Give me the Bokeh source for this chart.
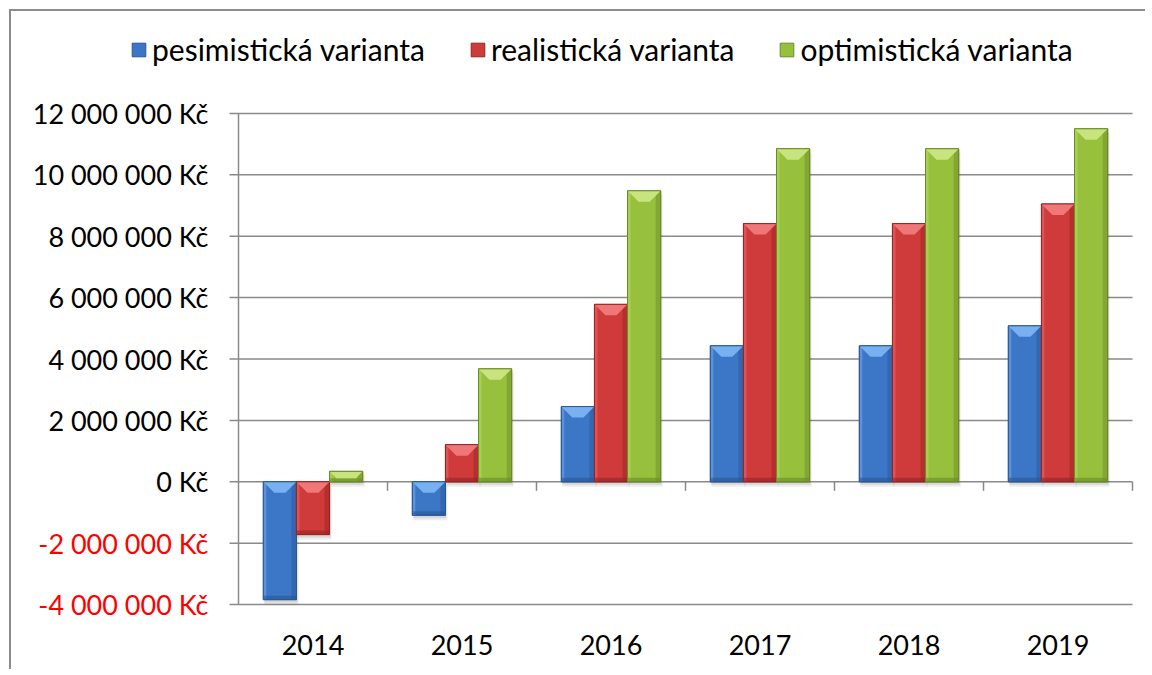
import numpy as np
from bokeh.plotting import figure
from bokeh.models import Range1d, Legend, LegendItem
from bokeh.embed import file_html
from bokeh.resources import INLINE

# ---------------- data ----------------
years = ["2014", "2015", "2016", "2017", "2018", "2019"]
series_names = ["pesimistická varianta", "realistická varianta", "optimistická varianta"]
pesimisticka = [-3.84e6, -1.09e6, 2.45e6, 4.43e6, 4.43e6, 5.08e6]
realisticka = [-1.72e6, 1.21e6, 5.78e6, 8.41e6, 8.41e6, 9.05e6]
optimisticka = [0.34e6, 3.68e6, 9.48e6, 10.85e6, 10.85e6, 11.50e6]
y_ticks = [-4e6, -2e6, 0, 2e6, 4e6, 6e6, 8e6, 10e6, 12e6]
y_tick_labels = ["-4 000 000 Kč", "-2 000 000 Kč", "0 Kč", "2 000 000 Kč", "4 000 000 Kč",
                 "6 000 000 Kč", "8 000 000 Kč", "10 000 000 Kč", "12 000 000 Kč"]

# ---------------- style / layout ----------------
FONT = "Lato"
GRID = "#8a8a8a"
palette = [
    dict(body="#3b77c6", light="#78b0f0", dark="#2a5794", left="#5a93dc"),
    dict(body="#cf3a3a", light="#ef7777", dark="#962424", left="#de5454"),
    dict(body="#97c03d", light="#c8e47e", dark="#6b8a28", left="#a9cf52"),
]

W, H = 1136, 660
# plot area inside the canvas (pixels)
PL, PR, PT, PB = 227, 1121, 101, 594
n = len(years)
ymin_c, ymax_c = -4.03e6, 12.03e6
XPX = n / (PR - PL)
YPX = (ymax_c - ymin_c) / (PB - PT)

x_lo = 0 - PL * XPX
x_hi = n + (W - PR) * XPX
y_hi = ymax_c + PT * YPX
y_lo = ymin_c - (H - PB) * YPX

p = figure(width=W, height=H, output_backend="svg", toolbar_location=None,
           x_range=Range1d(x_lo, x_hi), y_range=Range1d(y_lo, y_hi),
           min_border=0)
p.styles = {"border-left": "2px solid #8c8c8c", "border-top": "2px solid #8c8c8c",
            "margin-left": "9px", "margin-top": "9px"}
p.outline_line_color = None
p.background_fill_color = "white"
p.border_fill_color = "white"
p.xaxis.visible = False
p.yaxis.visible = False
p.xgrid.visible = False
p.ygrid.visible = False

# gridlines with outside tick marks
nt = len(y_ticks)
p.segment(x0=[-9 * XPX] * nt, y0=y_ticks, x1=[n] * nt, y1=y_ticks,
          line_color=GRID, line_width=1.5)
# value axis line
p.segment(x0=[0], y0=[min(y_ticks)], x1=[0], y1=[max(y_ticks)], line_color=GRID, line_width=1.5)
# category axis tick marks at the zero line
bounds = list(range(1, n + 1))
p.segment(x0=bounds, y0=[0] * n, x1=bounds, y1=[-9 * YPX] * n,
          line_color=GRID, line_width=1.5)

# y labels (negatives red)
p.text(x=[0] * nt, y=y_ticks, text=y_tick_labels, x_offset=-30, text_align="right",
       text_baseline="middle", text_font_size="27px",
       text_color=["#ff0000" if t < 0 else "black" for t in y_ticks],
       text_font={"value": FONT})

# x labels
centers = [i + 0.5 for i in range(n)]
p.text(x=centers, y=[min(y_ticks)] * n, text=years, y_offset=40, text_align="center",
       text_baseline="middle", text_font_size="27px", text_color="black",
       text_font={"value": FONT})

# bars
bw = 1.0 / 4.5
all_series = [pesimisticka, realisticka, optimisticka]
legend_items = []
for s, (vals, col, name) in enumerate(zip(all_series, palette, series_names)):
    vals = np.array(vals, dtype=float)
    cx = np.array(centers) + (s - 1) * bw
    x0 = cx - bw / 2
    x1 = cx + bw / 2
    top = np.maximum(vals, 0)
    bot = np.minimum(vals, 0)
    hpx = (top - bot) / YPX
    # soft shadow
    p.quad(left=x0 + 1 * XPX, right=x1 + 2 * XPX, top=top - 4 * YPX, bottom=bot - 5 * YPX,
           fill_color="black", fill_alpha=0.07, line_color=None)
    p.quad(left=x0 + 1 * XPX, right=x1 + 1 * XPX, top=top - 2 * YPX, bottom=bot - 3 * YPX,
           fill_color="black", fill_alpha=0.09, line_color=None)
    body = p.quad(left=x0, right=x1, top=top, bottom=bot, fill_color=col["body"],
                  line_color=col["dark"], line_width=1)
    p.quad(left=x0, right=x0 + 3 * XPX, top=top, bottom=bot, fill_color=col["left"],
           line_color=None)
    p.quad(left=x1 - 5 * XPX, right=x1, top=top, bottom=bot, fill_color=col["dark"],
           fill_alpha=0.45, line_color=None)
    bh = np.minimum(4.0, 0.35 * hpx)
    p.quad(left=x0, right=x1, top=bot + bh * YPX, bottom=bot, fill_color=col["dark"],
           fill_alpha=0.6, line_color=None)
    bev = np.minimum(11.0, 0.65 * hpx)
    xs, ys = [], []
    for a, b, t, bv in zip(x0, x1, top, bev):
        xs.append([a, b, b - bv * XPX, a + bv * XPX])
        ys.append([t, t, t - bv * YPX, t - bv * YPX])
    p.patches(xs=xs, ys=ys, fill_color=col["light"], line_color=None)
    p.quad(left=x0, right=x1, top=top, bottom=bot, fill_color=None,
           line_color=col["dark"], line_width=1)
    legend_items.append(LegendItem(label=name, renderers=[body]))

LEG_H = 36
legend = Legend(items=legend_items, orientation="horizontal",
                location=(119, H - 20 - LEG_H),
                label_text_font=FONT, label_text_font_size="30px", label_text_color="black",
                label_height=LEG_H, glyph_width=17, glyph_height=17, label_standoff=5,
                spacing=44, padding=0, margin=0, border_line_color=None,
                background_fill_alpha=0)
p.add_layout(legend)

open("out.html", "w").write(file_html(p, INLINE))
